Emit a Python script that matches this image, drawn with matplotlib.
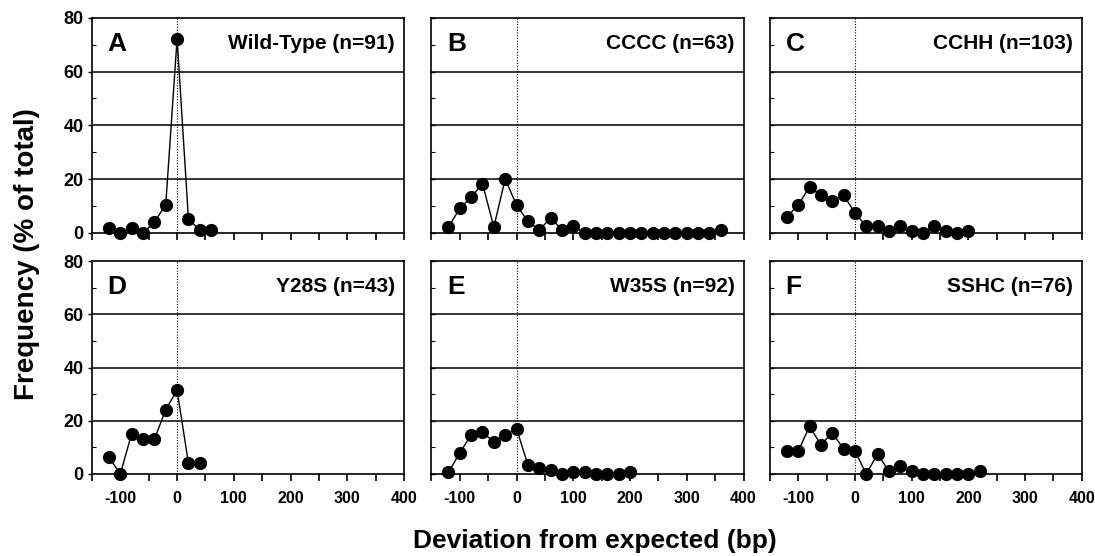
import numpy as np
import matplotlib
matplotlib.use("Agg")
import matplotlib.pyplot as plt
from matplotlib.ticker import MultipleLocator

plt.rcParams['font.family'] = ['Liberation Sans', 'DejaVu Sans']
plt.rcParams['font.weight'] = 'bold'
plt.rcParams['axes.unicode_minus'] = False

# deviation bins (bp), 20 bp steps from -120
bins = np.arange(-120, 380, 20)

letters = ['A', 'B', 'C', 'D', 'E', 'F']
names = ['Wild-Type (n=91)', 'CCCC (n=63)', 'CCHH (n=103)',
         'Y28S (n=43)', 'W35S (n=92)', 'SSHC (n=76)']

wild_type = [2, 0, 2, 0, 4, 10.5, 72.2, 5.2, 1, 1]
cccc = [2.2, 9.1, 13.3, 18.3, 2.2, 20.1, 10.3, 4.4, 1.1, 5.6, 1.2, 2.5,
        0, 0, 0, 0, 0, 0, 0, 0, 0, 0, 0, 0, 1.2]
cchh = [6, 10.4, 17.1, 14.1, 11.9, 14.1, 7.5, 2.5, 2.5, 0.9, 2.5, 0.9,
        0, 2.5, 0.9, 0, 0.9]
y28s = [6.2, 0, 15.2, 13, 13, 24.2, 31.5, 4, 4]
w35s = [0.6, 7.9, 14.7, 15.7, 12, 14.7, 17, 3.5, 2.2, 1.6, 0, 0.6, 0.6,
        0, 0, 0, 0.6]
sshc = [8.5, 8.5, 17.9, 11, 15.4, 9.5, 8.75, 0, 7.5, 1, 3.1, 1, 0, 0,
        0, 0, 0, 1]
series = [wild_type, cccc, cchh, y28s, w35s, sshc]

fig = plt.figure(figsize=(10.95, 5.56), dpi=100)

lefts = [0.084, 0.394, 0.703]
width = 0.285
rows = [(0.581, 0.387), (0.1475, 0.383)]

for i in range(6):
    r, c = divmod(i, 3)
    ax = fig.add_axes([lefts[c], rows[r][0], width, rows[r][1]])
    vals = series[i]
    x = bins[:len(vals)]
    for yy in (20, 40, 60):
        ax.axhline(yy, color='black', lw=1.1, zorder=1)
    ax.axvline(0, color='black', lw=0.8, ls=(0, (1, 1.5)), zorder=1)
    ax.plot(x, vals, color='black', lw=1.0, marker='o', markersize=8.5,
            clip_on=False, zorder=3)
    ax.set_xlim(-150, 400)
    ax.set_ylim(0, 80)
    ax.xaxis.set_major_locator(MultipleLocator(100))
    ax.xaxis.set_minor_locator(MultipleLocator(50))
    ax.yaxis.set_major_locator(MultipleLocator(20))
    ax.yaxis.set_minor_locator(MultipleLocator(10))
    ax.tick_params(axis='x', which='both', direction='out', length=5,
                   width=1.2, labelsize=11.5, pad=7)
    ax.tick_params(axis='y', which='major', direction='out', length=3,
                   width=1.0, labelsize=13, pad=3)
    ax.tick_params(axis='y', which='minor', direction='in', length=3,
                   width=0.8)
    for s in ax.spines.values():
        s.set_linewidth(1.2)
    if c != 0:
        ax.tick_params(axis='y', which='major', labelleft=False,
                       direction='in')
    if r == 0:
        ax.tick_params(axis='x', which='both', labelbottom=False)
    ax.text(0.05, 0.879, letters[i], transform=ax.transAxes, fontsize=19,
            fontweight='bold', ha='left', va='center')
    ax.text(0.971, 0.879, names[i], transform=ax.transAxes, fontsize=15,
            fontweight='bold', ha='right', va='center')

fig.text(0.025, 0.543, 'Frequency (% of total)', rotation=90, fontsize=20,
         fontweight='bold', ha='center', va='center')
fig.text(0.543, 0.027, 'Deviation from expected (bp)', fontsize=19,
         fontweight='bold', ha='center', va='center')

fig.savefig('out.png', dpi=100)
